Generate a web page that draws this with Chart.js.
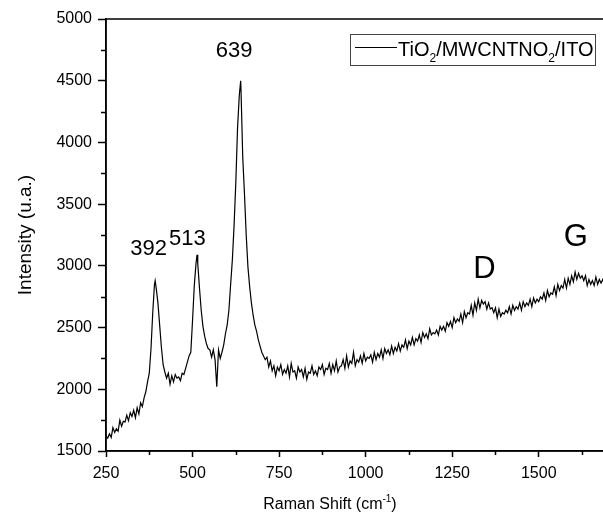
<!DOCTYPE html>
<html>
<head>
<meta charset="utf-8">
<title>Raman spectrum</title>
<script src="https://cdn.jsdelivr.net/npm/chart.js@4/dist/chart.umd.min.js"></script>
<style>
  html, body { margin: 0; padding: 0; background: #fff; overflow: hidden; }
  canvas { display: block; }
</style>
</head>
<body>
<canvas id="ramanChart" width="620" height="517"></canvas>
<script>
const FONT = '"Liberation Sans", Arial, sans-serif';

// Raman shift (cm-1) and measured intensity (u.a.)
const ramanShift = [
  250, 255, 260, 265, 270, 275, 280, 285, 290, 295,
  300, 305, 310, 315, 320, 325, 330, 335, 340, 345,
  350, 355, 360, 365, 370, 375, 380, 385, 390, 392, 395,
  400, 405, 410, 415, 420, 425, 430, 435, 440, 445,
  450, 455, 460, 465, 470, 475, 480, 485, 490, 495,
  500, 505, 510, 513, 515, 520, 525, 530, 535, 540, 545,
  550, 555, 560, 565, 570, 575, 580, 585, 590, 595,
  600, 605, 610, 615, 620, 625, 630, 635, 639, 640, 645,
  650, 655, 660, 665, 670, 675, 680, 685, 690, 695,
  700, 705, 710, 715, 720, 725, 730, 735, 740, 745,
  750, 755, 760, 765, 770, 775, 780, 785, 790, 795,
  800, 805, 810, 815, 820, 825, 830, 835, 840, 845,
  850, 855, 860, 865, 870, 875, 880, 885, 890, 895,
  900, 905, 910, 915, 920, 925, 930, 935, 940, 945,
  950, 955, 960, 965, 970, 975, 980, 985, 990, 995,
  1000, 1005, 1010, 1015, 1020, 1025, 1030, 1035, 1040, 1045,
  1050, 1055, 1060, 1065, 1070, 1075, 1080, 1085, 1090, 1095,
  1100, 1105, 1110, 1115, 1120, 1125, 1130, 1135, 1140, 1145,
  1150, 1155, 1160, 1165, 1170, 1175, 1180, 1185, 1190, 1195,
  1200, 1205, 1210, 1215, 1220, 1225, 1230, 1235, 1240, 1245,
  1250, 1255, 1260, 1265, 1270, 1275, 1280, 1285, 1290, 1295,
  1300, 1305, 1310, 1315, 1320, 1325, 1330, 1335, 1340, 1345,
  1350, 1355, 1360, 1365, 1370, 1375, 1380, 1385, 1390, 1395,
  1400, 1405, 1410, 1415, 1420, 1425, 1430, 1435, 1440, 1445,
  1450, 1455, 1460, 1465, 1470, 1475, 1480, 1485, 1490, 1495,
  1500, 1505, 1510, 1515, 1520, 1525, 1530, 1535, 1540, 1545,
  1550, 1555, 1560, 1565, 1570, 1575, 1580, 1585, 1590, 1595,
  1600, 1605, 1610, 1615, 1620, 1625, 1630, 1635, 1640, 1645,
  1650, 1655, 1660, 1665, 1670, 1675, 1680, 1685, 1690, 1695, 1700
];

const intensity = [
  1620, 1605, 1640, 1610, 1690, 1650, 1680, 1660, 1750, 1700,
  1740, 1735, 1790, 1745, 1810, 1780, 1830, 1770, 1850, 1800,
  1890, 1860, 1930, 1980, 2060, 2130, 2330, 2620, 2850, 2880, 2820,
  2700, 2520, 2340, 2200, 2140, 2090, 2130, 2040, 2110, 2060,
  2120, 2090, 2100, 2070, 2130, 2120, 2170, 2220, 2270, 2300,
  2560, 2840, 3020, 3090, 3020, 2820, 2640, 2510, 2430, 2370, 2330,
  2320, 2260, 2320, 2240, 2020, 2320, 2250, 2300, 2360, 2450,
  2520, 2640, 2850, 3050, 3330, 3680, 4120, 4380, 4500, 4420, 3880,
  3580, 3250, 2990, 2830, 2700, 2600, 2520, 2470, 2400, 2350,
  2300, 2270, 2240, 2260, 2180, 2230, 2150, 2190, 2110, 2180,
  2150, 2200, 2120, 2160, 2130, 2190, 2100, 2210, 2140, 2150,
  2090, 2180, 2140, 2160, 2100, 2170, 2080, 2140, 2130, 2190,
  2120, 2150, 2110, 2180, 2160, 2200, 2120, 2170, 2160, 2210,
  2130, 2200, 2150, 2230, 2140, 2180, 2190, 2240, 2170, 2270,
  2180, 2230, 2210, 2300, 2190, 2240, 2220, 2270, 2210, 2290,
  2230, 2260, 2250, 2280, 2220, 2300, 2240, 2290, 2260, 2320,
  2250, 2330, 2290, 2320, 2280, 2350, 2290, 2340, 2310, 2370,
  2310, 2360, 2340, 2400, 2330, 2390, 2360, 2420, 2360, 2410,
  2390, 2440, 2380, 2460, 2420, 2450, 2410, 2490, 2440, 2460,
  2450, 2480, 2440, 2510, 2480, 2510, 2470, 2540, 2510, 2550,
  2500, 2580, 2540, 2570, 2550, 2610, 2540, 2630, 2580, 2620,
  2610, 2680, 2600, 2700, 2640, 2730, 2660, 2720, 2690, 2710,
  2650, 2700, 2650, 2660, 2620, 2660, 2580, 2650, 2590, 2620,
  2610, 2640, 2620, 2670, 2610, 2680, 2640, 2670, 2650, 2700,
  2640, 2710, 2670, 2700, 2680, 2730, 2670, 2740, 2700, 2730,
  2710, 2750, 2730, 2780, 2720, 2800, 2750, 2780, 2770, 2830,
  2760, 2850, 2800, 2840, 2820, 2890, 2820, 2900, 2850, 2920,
  2870, 2950, 2890, 2940, 2900, 2920, 2880, 2920, 2840, 2890,
  2850, 2880, 2840, 2910, 2850, 2890, 2860, 2890, 2850, 2900, 2870
];

const xTicks = [250, 500, 750, 1000, 1250, 1500];
const xMinorTicks = [375, 625, 875, 1125, 1375, 1625];
const yTicks = [1500, 2000, 2500, 3000, 3500, 4000, 4500, 5000];
const yMinorTicks = [1750, 2250, 2750, 3250, 3750, 4250, 4750];

// labelled TiO2 peaks and carbon bands
const peakShifts = [392, 513, 639];
const bandNames = ['D', 'G'];

const peakLabelPos = [
  { x: 373, y: 3088 },
  { x: 485, y: 3169 },
  { x: 620, y: 4690 }
];
const bandLabelPos = [
  { x: 1343, y: 2899 },
  { x: 1607, y: 3161 }
];

// draws text made of runs, some of them sub- or superscript
function drawRich(ctx, runs, x, y, size, align) {
  const small = Math.round(size * 0.62);
  let total = 0;
  runs.forEach(r => {
    ctx.font = (r.sub || r.sup ? small : size) + 'px ' + FONT;
    r.w = ctx.measureText(r.t).width;
    total += r.w;
  });
  let cx = align === 'center' ? x - total / 2 : x;
  ctx.textAlign = 'left';
  ctx.textBaseline = 'alphabetic';
  runs.forEach(r => {
    ctx.font = (r.sub || r.sup ? small : size) + 'px ' + FONT;
    let dy = 0;
    if (r.sub) dy = size * 0.3;
    if (r.sup) dy = -size * 0.45;
    ctx.fillText(r.t, cx, y + dy);
    cx += r.w;
  });
}

const decorations = {
  id: 'decorations',
  afterDraw(chart) {
    const { ctx, chartArea: a, scales: { x, y } } = chart;
    ctx.save();
    ctx.strokeStyle = '#000';
    ctx.fillStyle = '#000';

    // frame
    ctx.lineWidth = 1.5;
    ctx.strokeRect(a.left, a.top, a.right - a.left, a.bottom - a.top);

    // minor ticks
    ctx.beginPath();
    xMinorTicks.forEach(v => {
      const px = Math.round(x.getPixelForValue(v)) + 0.5;
      ctx.moveTo(px, a.bottom);
      ctx.lineTo(px, a.bottom + 4);
    });
    yMinorTicks.forEach(v => {
      const py = Math.round(y.getPixelForValue(v)) + 0.5;
      ctx.moveTo(a.left - 5, py);
      ctx.lineTo(a.left, py);
    });
    ctx.stroke();

    // peak and band labels
    ctx.textAlign = 'center';
    ctx.textBaseline = 'alphabetic';
    ctx.font = '22px ' + FONT;
    peakShifts.forEach((p, i) => {
      const pos = peakLabelPos[i];
      ctx.fillText(String(p), x.getPixelForValue(pos.x), y.getPixelForValue(pos.y));
    });
    ctx.font = '31px ' + FONT;
    bandNames.forEach((b, i) => {
      const pos = bandLabelPos[i];
      ctx.fillText(b, x.getPixelForValue(pos.x), y.getPixelForValue(pos.y));
    });

    // axis titles
    drawRich(ctx, [{ t: 'Raman Shift (cm' }, { t: '-1', sup: true }, { t: ')' }], 330, 509, 16, 'center');
    ctx.save();
    ctx.translate(31, (a.top + a.bottom) / 2);
    ctx.rotate(-Math.PI / 2);
    drawRich(ctx, [{ t: 'Intensity (u.a.)' }], 0, 0, 19, 'center');
    ctx.restore();

    // legend
    ctx.lineWidth = 1;
    ctx.strokeStyle = '#444';
    ctx.strokeRect(350.5, 34.5, 245, 31);
    ctx.strokeStyle = '#000';
    ctx.beginPath();
    ctx.moveTo(355, 47.5);
    ctx.lineTo(397, 47.5);
    ctx.stroke();
    drawRich(ctx, [
      { t: 'TiO' }, { t: '2', sub: true }, { t: '/MWCNTNO' }, { t: '2', sub: true }, { t: '/ITO' }
    ], 398, 55.5, 20, 'left');

    ctx.restore();
  }
};

const tickFont = { family: FONT, size: 16 };

new Chart(document.getElementById('ramanChart'), {
  type: 'line',
  data: {
    datasets: [{
      label: 'TiO2/MWCNTNO2/ITO',
      data: ramanShift.map((s, i) => ({ x: s, y: intensity[i] })),
      borderColor: '#000',
      borderWidth: 1.2,
      pointRadius: 0,
      tension: 0,
      fill: false
    }]
  },
  options: {
    responsive: false,
    animation: false,
    devicePixelRatio: 1,
    layout: { padding: { top: 19, right: 12, left: 0, bottom: 0 } },
    plugins: {
      legend: { display: false },
      tooltip: { enabled: false }
    },
    scales: {
      x: {
        type: 'linear',
        min: 250,
        max: 1700,
        afterBuildTicks: s => { s.ticks = xTicks.map(v => ({ value: v })); },
        afterFit: s => { s.height = 66; },
        grid: { drawOnChartArea: false, tickLength: 6, tickColor: '#000', tickWidth: 1.5 },
        border: { color: '#000', width: 1.5 },
        ticks: { color: '#000', font: tickFont, padding: 7, maxRotation: 0, autoSkip: false, callback: v => String(v) }
      },
      y: {
        type: 'linear',
        min: 1500,
        max: 5000,
        afterBuildTicks: s => { s.ticks = yTicks.map(v => ({ value: v })); },
        afterFit: s => { s.width = 106; },
        grid: { drawOnChartArea: false, tickLength: 8, tickColor: '#000', tickWidth: 1.5 },
        border: { color: '#000', width: 1.5 },
        ticks: { color: '#000', font: tickFont, padding: 6, autoSkip: false, callback: v => String(v) }
      }
    }
  },
  plugins: [decorations]
});
</script>
</body>
</html>
